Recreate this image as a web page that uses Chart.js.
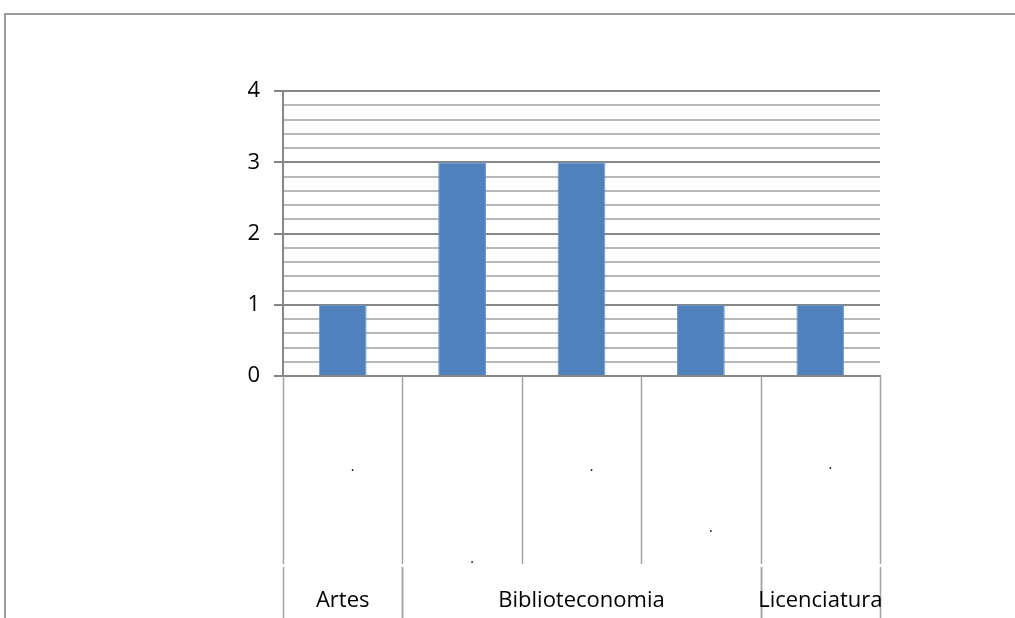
<!DOCTYPE html>
<html>
<head>
<meta charset="utf-8">
<script src="https://cdn.jsdelivr.net/npm/chart.js@4"></script>
<style>
  html, body { margin: 0; padding: 0; background: #fff; }
  #wrap { position: relative; width: 1015px; height: 618px; }
  #frame {
    position: absolute; left: 4px; top: 13px; right: 0; bottom: 0;
    border-top: 2px solid #9a9a9a; border-left: 2px solid #9a9a9a;
  }
  canvas { position: absolute; left: 0; top: 0; }
</style>
</head>
<body>
<div id="wrap">
  <div id="frame"></div>
  <canvas id="chart" width="1015" height="618"></canvas>
</div>
<script>
// chart data
const subLabels = ['.', '.', '.', '.', '.'];
const groupLabels = ['Artes', 'Biblioteconomia', 'Biblioteconomia', 'Biblioteconomia', 'Licenciatura'];
const values = [1, 3, 3, 1, 1];
const yMax = 4;
const yStep = 0.2;

const FONT = "'Open Sans', sans-serif";
const isMajor = (v) => Math.abs(v - Math.round(v)) < 1e-6;

// draws the two-level category axis below the plot (dividers, sub labels, group labels)
const multiLevelAxis = {
    id: 'multiLevelAxis',
    afterDraw(chart) {
        const x = chart.scales.x;
        const ctx = chart.ctx;
        const bottom = chart.chartArea.bottom;
        const half = (x.getPixelForValue(1) - x.getPixelForValue(0)) / 2;
        const breakY = 564;
        const endY = 618;
        // vertical offsets of the tiny sub labels (as laid out in the original)
        const subY = [471, 563, 471, 532, 469];

        ctx.save();
        ctx.strokeStyle = '#a3a3a3';
        ctx.lineWidth = 1.5;

        // level 1 dividers
        for (let i = 0; i <= subLabels.length; i++) {
            const px = Math.round(x.getPixelForValue(i) - half) + 0.5;
            ctx.beginPath();
            ctx.moveTo(px, bottom);
            ctx.lineTo(px, breakY);
            ctx.stroke();
        }

        // sub labels
        ctx.fillStyle = '#000';
        ctx.font = '14px ' + FONT;
        ctx.textAlign = 'center';
        ctx.textBaseline = 'middle';
        subLabels.forEach((s, i) => {
            ctx.fillText(s, x.getPixelForValue(i) + 10, subY[i] - 4);
        });

        // group spans
        const groups = [];
        groupLabels.forEach((g, i) => {
            const last = groups[groups.length - 1];
            if (last && last.name === g) last.end = i;
            else groups.push({ name: g, start: i, end: i });
        });

        ctx.font = '22px ' + FONT;
        groups.forEach((g) => {
            const left = x.getPixelForValue(g.start) - half;
            const right = x.getPixelForValue(g.end) + half;
            [left, right].forEach(px => {
                px = Math.round(px) + 0.5;
                ctx.beginPath();
                ctx.moveTo(px, breakY + 3);
                ctx.lineTo(px, endY);
                ctx.stroke();
            });
            ctx.fillText(g.name, (left + right) / 2, 601);
        });
        ctx.restore();
    }
};

new Chart(document.getElementById('chart'), {
    type: 'bar',
    data: {
        labels: subLabels.map((s, i) => String(i)),
        datasets: [{
            data: values,
            backgroundColor: '#4f81bd',
            borderColor: '#6f97c8',
            borderWidth: 1,
            barPercentage: 0.4,
            categoryPercentage: 1.0
        }]
    },
    options: {
        responsive: false,
        animation: false,
        devicePixelRatio: 1,
        layout: { padding: { left: 0, top: 91, right: 135, bottom: 242 } },
        plugins: {
            legend: { display: false },
            tooltip: { enabled: false }
        },
        scales: {
            x: {
                ticks: { display: false },
                grid: { display: false, drawTicks: false },
                border: { color: '#868686', width: 2 },
                afterFit(scale) { scale.height = 0; }
            },
            y: {
                min: 0,
                max: yMax,
                ticks: {
                    stepSize: yStep,
                    autoSkip: false,
                    color: '#000',
                    padding: 14,
                    font: { family: FONT, size: 22 },
                    callback: (v) => isMajor(v) ? String(Math.round(v)) : ''
                },
                grid: {
                    color: (c) => isMajor(c.tick.value) ? '#868686' : '#b8b8b8',
                    lineWidth: 2,
                    tickLength: 9,
                    tickColor: (c) => isMajor(c.tick.value) ? '#868686' : 'rgba(0,0,0,0)'
                },
                border: { color: '#868686', width: 2 },
                afterFit(scale) { scale.width = 283; }
            }
        }
    },
    plugins: [multiLevelAxis]
});
</script>
</body>
</html>
